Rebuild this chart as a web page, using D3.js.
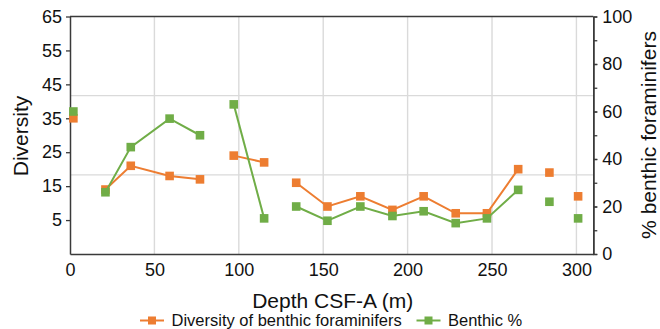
<!DOCTYPE html>
<html>
<head>
<meta charset="utf-8">
<script src="https://cdn.jsdelivr.net/npm/d3@7/dist/d3.min.js"></script>
<style>
  html, body { margin: 0; padding: 0; background: #fff; }
  svg { display: block; font-family: "Liberation Sans", Arial, Helvetica, sans-serif; }
</style>
</head>
<body>
<svg id="chart" width="660" height="329"></svg>
<script>
// Sample depths (m CSF-A)
const depth = [2, 21, 36, 59, 77, 97, 115, 134, 152.5, 172, 191, 209.5, 228.5, 247, 265.5, 284, 301];
// Diversity of benthic foraminifers (left axis)
const diversity = [35, 14, 21, 18, 17, 24, 22, 16, 9, 12, 8, 12, 7, 7, 20, 19, 12];
// Benthic foraminifers as % of total (right axis)
const benthicPct = [60, 26, 45, 57, 50, 63, 15, 20, 14, 20, 16, 18, 13, 15, 27, 22, 15];
// Continuous runs of samples; lines only join samples of the same run
const run = [0, 1, 1, 1, 1, 2, 2, 3, 3, 3, 3, 3, 3, 3, 3, 4, 5];

const xTicks = [0, 50, 100, 150, 200, 250, 300];
const leftTicks = [5, 15, 25, 35, 45, 55, 65];
const rightTicks = [0, 20, 40, 60, 80, 100];
const rightMinorTicks = [0, 10, 20, 30, 40, 50, 60, 70, 80, 90, 100];
const seriesNames = ["Diversity of benthic foraminifers", "Benthic %"];

const ORANGE = "#ED7D31", GREEN = "#70AD47", AXIS = "#3a3a3a", GRID = "#dadada";
const pL = 70, pR = 593.3, pT = 16.5, pB = 254;

const svg = d3.select("#chart");
const x = d3.scaleLinear().domain([0, 310]).range([pL, pR]);
const yL = d3.scaleLinear().domain([-5, 65]).range([pB, pT]);
const yR = d3.scaleLinear().domain([0, 100]).range([pB, pT]);

// gridlines: verticals at the labelled depths, horizontals at thirds of the plot
const grid = svg.append("g");
grid.selectAll("line.vg").data(xTicks.filter(d => d > 0)).join("line")
  .attr("x1", d => x(d)).attr("x2", d => x(d))
  .attr("y1", pT).attr("y2", pB)
  .attr("stroke", GRID).attr("stroke-width", 1.4);
const yd = yL.domain();
grid.selectAll("line.hg").data([1, 2].map(i => yd[0] + i * (yd[1] - yd[0]) / 3)).join("line")
  .attr("x1", pL).attr("x2", pR)
  .attr("y1", d => yL(d)).attr("y2", d => yL(d))
  .attr("stroke", GRID).attr("stroke-width", 1.4);

// axes
const axL = svg.append("g").attr("transform", `translate(${pL},0)`)
  .call(d3.axisLeft(yL).tickValues(leftTicks).tickSize(4).tickPadding(4).tickSizeOuter(0));
const axRminor = svg.append("g").attr("transform", `translate(${pR},0)`)
  .call(d3.axisRight(yR).tickValues(rightMinorTicks).tickSize(4).tickFormat("").tickSizeOuter(0));
const axR = svg.append("g").attr("transform", `translate(${pR},0)`)
  .call(d3.axisRight(yR).tickValues(rightTicks).tickSize(4).tickPadding(5).tickSizeOuter(0));
const axB = svg.append("g").attr("transform", `translate(0,${pB})`)
  .call(d3.axisBottom(x).tickValues(xTicks).tickSize(0).tickPadding(9).tickSizeOuter(0));

[axL, axRminor, axR, axB].forEach(a => {
  a.selectAll("path.domain").attr("stroke", AXIS).attr("stroke-width", 1.5);
  a.selectAll(".tick line").attr("stroke", AXIS).attr("stroke-width", 1.3);
  a.selectAll("text").attr("font-size", 18).attr("fill", "#111")
    .attr("font-family", "Liberation Sans, Arial, sans-serif");
});
// top frame edge
svg.append("line").attr("x1", pL).attr("x2", pR).attr("y1", pT).attr("y2", pT)
  .attr("stroke", AXIS).attr("stroke-width", 1.5);

// axis titles
svg.append("text").attr("transform", `translate(28,136) rotate(-90)`)
  .attr("text-anchor", "middle").attr("font-size", 21).attr("fill", "#111").text("Diversity");
svg.append("text").attr("transform", `translate(655.5,135) rotate(-90)`)
  .attr("text-anchor", "middle").attr("font-size", 21).attr("fill", "#111").text("% benthic foraminifers");
svg.append("text").attr("x", (pL + pR) / 2 + 1).attr("y", 307.5)
  .attr("text-anchor", "middle").attr("font-size", 21).attr("fill", "#111").text("Depth CSF-A (m)");

// series
const rows = depth.map((d, i) => ({ d, div: diversity[i], pct: benthicPct[i], run: run[i] }));
const runs = d3.groups(rows, r => r.run).map(e => e[1]);
const M = 8.6;

function drawSeries(key, yScale, color) {
  const s = svg.append("g");
  const line = d3.line().x(r => x(r.d)).y(r => yScale(r[key]));
  s.selectAll("path").data(runs.filter(r => r.length > 1)).join("path")
    .attr("d", line).attr("fill", "none").attr("stroke", color).attr("stroke-width", 2);
  s.selectAll("rect").data(rows).join("rect")
    .attr("x", r => x(r.d) - M / 2).attr("y", r => yScale(r[key]) - M / 2)
    .attr("width", M).attr("height", M).attr("fill", color);
}
drawSeries("div", yL, ORANGE);
drawSeries("pct", yR, GREEN);

// legend along the bottom edge
const legendItems = [
  { name: seriesNames[0], color: ORANGE, x0: 140 },
  { name: seriesNames[1], color: GREEN, x0: 416.5 }
];
const LY = 320.5;
const lg = svg.append("g");
legendItems.forEach(it => {
  lg.append("line").attr("x1", it.x0).attr("x2", it.x0 + 24).attr("y1", LY).attr("y2", LY)
    .attr("stroke", it.color).attr("stroke-width", 2);
  lg.append("rect").attr("x", it.x0 + 12 - 4).attr("y", LY - 4).attr("width", 8).attr("height", 8)
    .attr("fill", it.color);
  lg.append("text").attr("x", it.x0 + 31.5).attr("y", LY + 5.5).attr("font-size", 16.5)
    .attr("fill", "#111").text(it.name);
});
</script>
</body>
</html>
